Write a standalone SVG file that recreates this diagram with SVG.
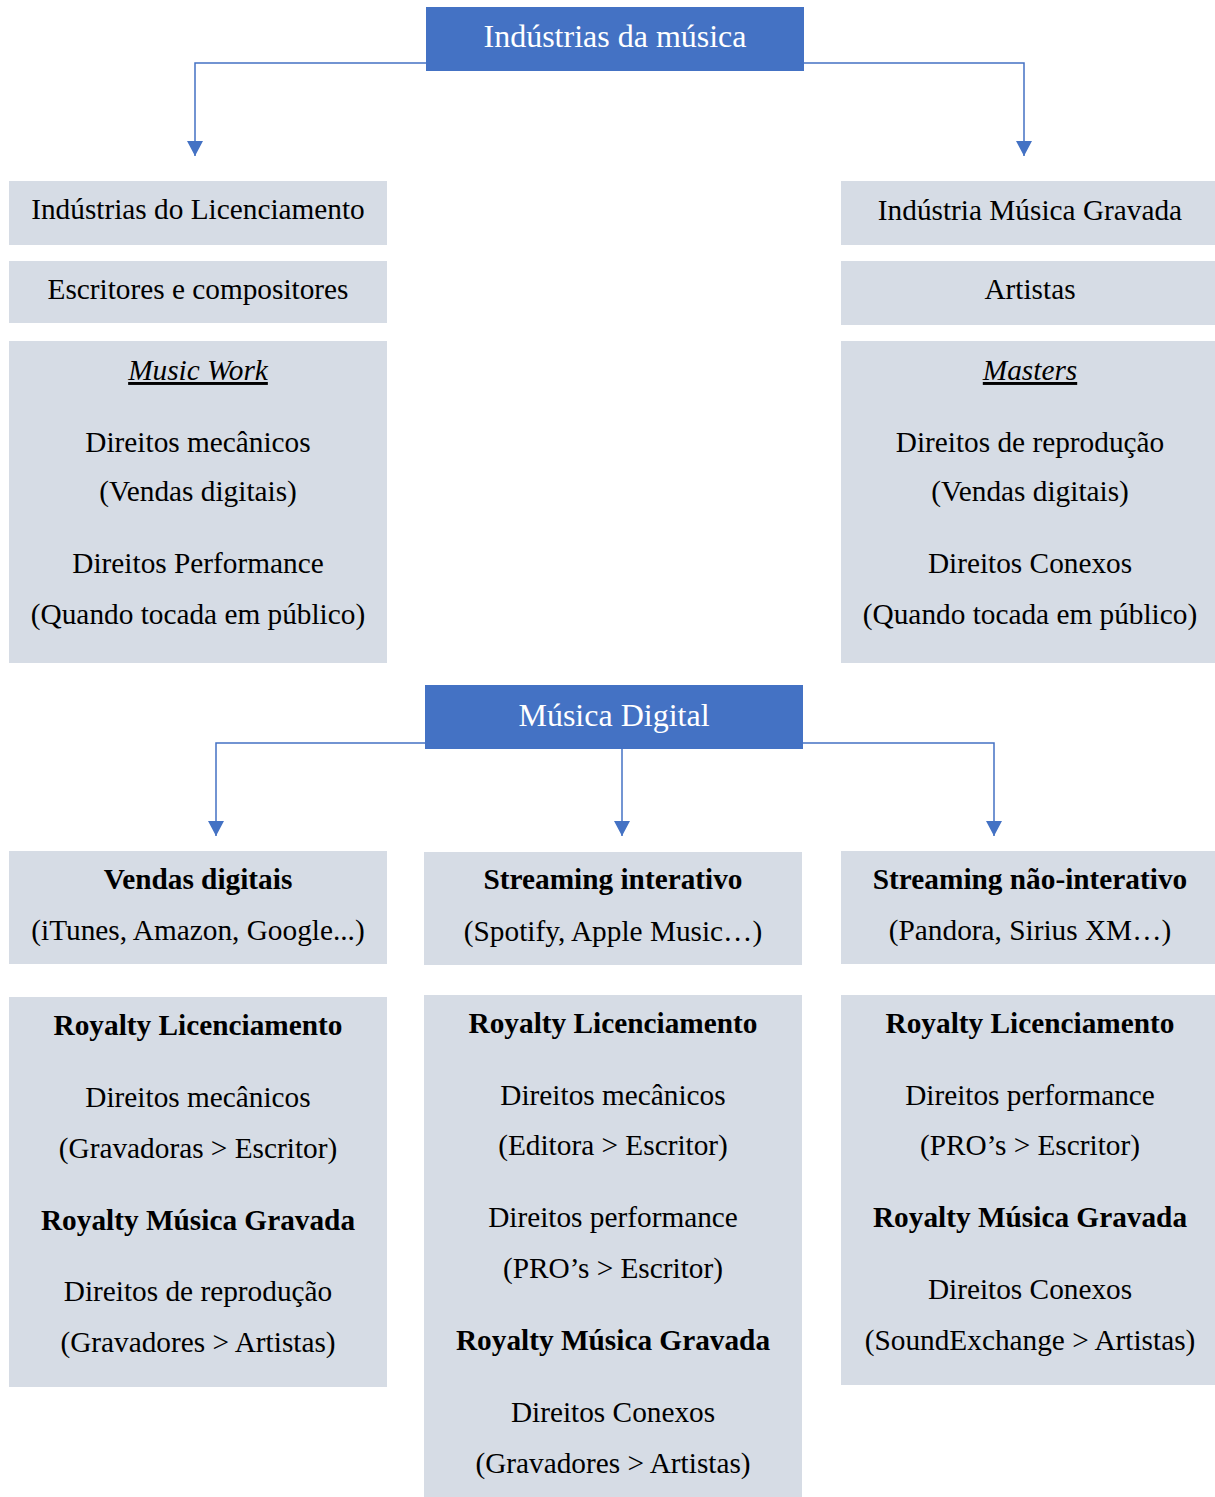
<svg xmlns="http://www.w3.org/2000/svg" width="1215" height="1497" viewBox="0 0 1215 1497">
<style>
.box{fill:#D6DCE5}
.hdr{fill:#4472C4}
text{font-family:"Liberation Serif","Times New Roman",serif;font-size:29.3px;fill:#000;text-anchor:middle}
.ht{fill:#fff;font-size:32px}
.b{font-weight:bold}
.iu{font-style:italic;text-decoration:underline}
.con{fill:none;stroke:#4472C4;stroke-width:1.5}
</style>
<defs>
<marker id="arr" markerWidth="16" markerHeight="16" refX="8" refY="15" orient="0" markerUnits="userSpaceOnUse" viewBox="0 0 16 16">
<path d="M0,0 L16,0 L8,15 Z" fill="#4472C4"/>
</marker>
</defs>
<rect width="1215" height="1497" fill="#fff"/>
<g id="connectors">
<path class="con" d="M426,63 H195 V156" marker-end="url(#arr)"/>
<path class="con" d="M804,63 H1024 V156" marker-end="url(#arr)"/>
<path class="con" d="M425,743 H216 V836" marker-end="url(#arr)"/>
<path class="con" d="M622,749 V836" marker-end="url(#arr)"/>
<path class="con" d="M803,743 H994 V836" marker-end="url(#arr)"/>
</g>
<g id="n-industrias">
<rect class="hdr" x="426" y="7" width="378" height="64"/>
<text class="ht" x="615" y="47">Indústrias da música</text>
</g>
<g id="n-licenciamento">
<rect class="box" x="9" y="181" width="378" height="64"/>
<text x="198" y="219">Indústrias do Licenciamento</text>
</g>
<g id="n-escritores">
<rect class="box" x="9" y="261" width="378" height="62"/>
<text x="198" y="299">Escritores e compositores</text>
</g>
<g id="n-musicwork">
<rect class="box" x="9" y="341" width="378" height="322"/>
<text class="iu" x="198" y="380">Music Work</text>
<text x="198" y="452">Direitos mecânicos</text>
<text x="198" y="501">(Vendas digitais)</text>
<text x="198" y="573">Direitos Performance</text>
<text x="198" y="624">(Quando tocada em público)</text>
</g>
<g id="n-gravada">
<rect class="box" x="841" y="181" width="374" height="64"/>
<text x="1030" y="220">Indústria Música Gravada</text>
</g>
<g id="n-artistas">
<rect class="box" x="841" y="261" width="374" height="64"/>
<text x="1030" y="299">Artistas</text>
</g>
<g id="n-masters">
<rect class="box" x="841" y="341" width="374" height="322"/>
<text class="iu" x="1030" y="380">Masters</text>
<text x="1030" y="452">Direitos de reprodução</text>
<text x="1030" y="501">(Vendas digitais)</text>
<text x="1030" y="573">Direitos Conexos</text>
<text x="1030" y="624">(Quando tocada em público)</text>
</g>
<g id="n-digital">
<rect class="hdr" x="425" y="685" width="378" height="64"/>
<text class="ht" x="614" y="726">Música Digital</text>
</g>
<g id="n-vendas">
<rect class="box" x="9" y="851" width="378" height="113"/>
<text class="b" x="198" y="889">Vendas digitais</text>
<text x="198" y="940">(iTunes, Amazon, Google...)</text>
</g>
<g id="n-interativo">
<rect class="box" x="424" y="852" width="378" height="113"/>
<text class="b" x="613" y="889">Streaming interativo</text>
<text x="613" y="941">(Spotify, Apple Music…)</text>
</g>
<g id="n-naointerativo">
<rect class="box" x="841" y="851" width="374" height="113"/>
<text class="b" x="1030" y="889">Streaming não-interativo</text>
<text x="1030" y="940">(Pandora, Sirius XM…)</text>
</g>
<g id="n-royalty-vendas">
<rect class="box" x="9" y="997" width="378" height="390"/>
<text class="b" x="198" y="1035">Royalty Licenciamento</text>
<text x="198" y="1107">Direitos mecânicos</text>
<text x="198" y="1158">(Gravadoras &gt; Escritor)</text>
<text class="b" x="198" y="1230">Royalty Música Gravada</text>
<text x="198" y="1301">Direitos de reprodução</text>
<text x="198" y="1352">(Gravadores &gt; Artistas)</text>
</g>
<g id="n-royalty-interativo">
<rect class="box" x="424" y="995" width="378" height="502"/>
<text class="b" x="613" y="1033">Royalty Licenciamento</text>
<text x="613" y="1105">Direitos mecânicos</text>
<text x="613" y="1155">(Editora &gt; Escritor)</text>
<text x="613" y="1227">Direitos performance</text>
<text x="613" y="1278">(PRO’s &gt; Escritor)</text>
<text class="b" x="613" y="1350">Royalty Música Gravada</text>
<text x="613" y="1422">Direitos Conexos</text>
<text x="613" y="1473">(Gravadores &gt; Artistas)</text>
</g>
<g id="n-royalty-naointerativo">
<rect class="box" x="841" y="995" width="374" height="390"/>
<text class="b" x="1030" y="1033">Royalty Licenciamento</text>
<text x="1030" y="1105">Direitos performance</text>
<text x="1030" y="1155">(PRO’s &gt; Escritor)</text>
<text class="b" x="1030" y="1227">Royalty Música Gravada</text>
<text x="1030" y="1299">Direitos Conexos</text>
<text x="1030" y="1350">(SoundExchange &gt; Artistas)</text>
</g>
</svg>
